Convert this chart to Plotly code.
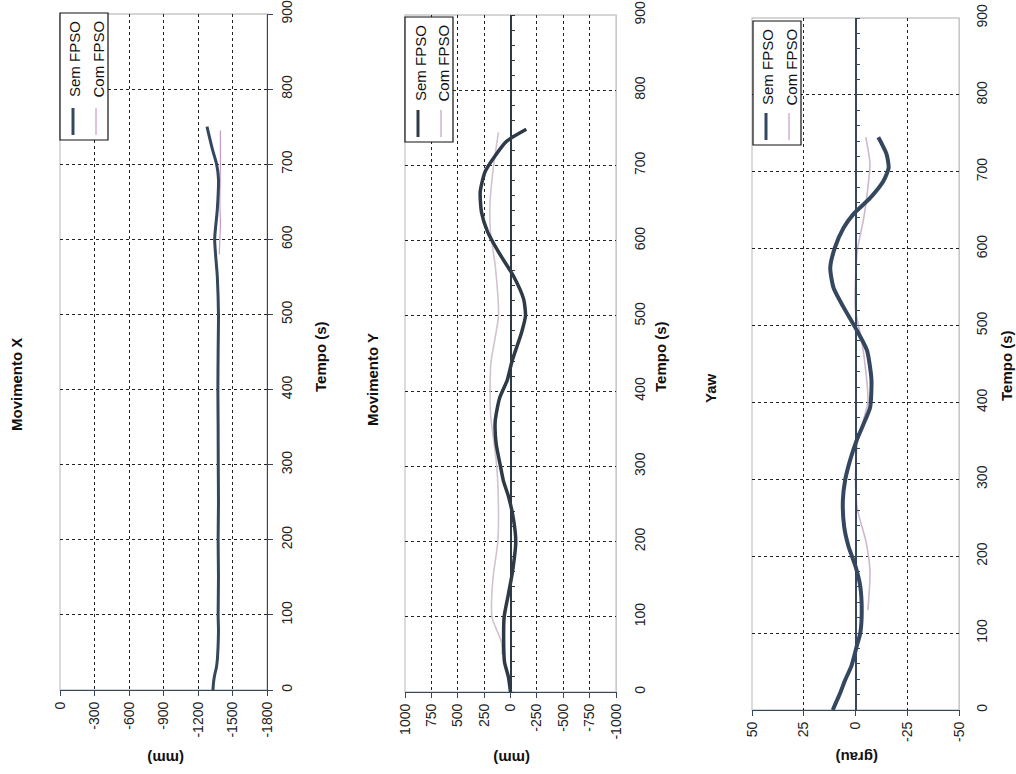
import plotly.graph_objects as go

W, H = 1016, 774

# ---------------- data ----------------
time_ticks = [0, 100, 200, 300, 400, 500, 600, 700, 800, 900]

x_ticks = [0, -300, -600, -900, -1200, -1500, -1800]
x_ticklabels = ["0", "-300", "-600", "-900", "-1200", "-1500", "-1800"]
y_ticks = [1000, 750, 500, 250, 0, -250, -500, -750, -1000]
y_ticklabels = ["1000", "750", "500", "250", "0", "-250", "-500", "-750", "-1000"]
yaw_ticks = [50, 25, 0, -25, -50]
yaw_ticklabels = ["50", "25", "0", "-25", "-50"]

# Movimento X
x_sem_t = [0, 10, 20, 30, 40, 50, 60, 80, 100, 150, 200, 250, 300, 350, 400, 450, 500, 550, 600, 640, 680, 700, 720, 750]
x_sem_v = [-1330, -1335, -1345, -1360, -1368, -1372, -1375, -1378, -1375, -1378, -1375, -1378, -1376, -1375, -1373, -1375, -1378, -1368, -1345, -1368, -1378, -1362, -1325, -1278]
x_com_t = [580, 600, 620, 650, 700, 745]
x_com_v = [-1385, -1390, -1395, -1390, -1395, -1395]

# Movimento Y
y_sem_t = [0, 20, 40, 70, 100, 130, 160, 200, 230, 260, 280, 300, 330, 360, 390, 415, 440, 478, 500, 522, 553, 585, 612, 638, 665, 692, 713, 732, 748]
y_sem_v = [0, 20, 57, 65, 60, 20, -19, -50, -28, 19, 66, 95, 136, 145, 105, 30, -15, -105, -142, -125, -28, 114, 218, 275, 287, 240, 145, 38, -150]
y_com_t = [50, 66, 100, 150, 200, 244, 300, 371, 436, 500, 567, 612, 648, 700, 744]
y_com_v = [80, 85, 176, 167, 120, 114, 130, 190, 187, 114, 145, 190, 195, 160, 114]

# Yaw
yaw_sem_t = [0, 22, 39, 57, 83, 100, 126, 161, 187, 213, 239, 273, 299, 325, 351, 377, 394, 430, 468, 497, 524, 549, 575, 601, 627, 645, 666, 688, 705, 723, 740, 745]
yaw_sem_v = [11, 7.4, 5, 2, -0.6, -2.3, -3, -2.3, 0, 3.4, 5.5, 6.1, 5, 2.6, -0.6, -4.7, -7.1, -7.7, -5.5, 0, 5.8, 10.6, 12.2, 10, 5.8, 1, -7.1, -13.5, -16, -15, -12, -11]
yaw_com_t = [130, 180, 220, 260, 300, 350, 400, 440, 480, 520, 560, 600, 640, 680, 710, 745]
yaw_com_v = [-6, -7, -5, -1, 0, -1, -6, -5, -3, 0, 0, -1, -4, -6, -7, -5]

titles = ["Movimento X", "Movimento Y", "Yaw"]
unit_labels = ["(mm)", "(mm)", "(grau)"]
time_title = "Tempo (s)"
legend_names = ["Sem FPSO", "Com FPSO"]

# ---------------- style ----------------
FONT = "Liberation Sans, Arial, sans-serif"
NAVY = "#34475F"
DARK = "#2E3B47"
PINK = "#C79BC6"
BORDER = "#C8C8C8"
GRID = "#222222"

def px_x(p):
    return p / W

def px_y(p):
    return 1 - p / H

# plot boxes in pixels: (left, right, top(900), bottom(0))
boxes = [(60, 267, 14, 690), (405, 616, 15, 692), (752, 959, 18, 710)]
ranges = [[0, -1800], [1000, -1000], [50, -50]]
label_standoffs = [2, 6, 5]

fig = go.Figure()

def add(tr_t, tr_v, xa, ya, color, width, name):
    fig.add_trace(go.Scatter(x=tr_v, y=tr_t, mode="lines", xaxis=xa, yaxis=ya,
                             line=dict(color=color, width=width, shape="spline", smoothing=0.6),
                             name=name, showlegend=False, hoverinfo="skip"))

add(x_com_t, x_com_v, "x", "y", PINK, 1.2, legend_names[1])
add(x_sem_t, x_sem_v, "x", "y", NAVY, 3, legend_names[0])
add(y_com_t, y_com_v, "x2", "y2", "#CFC4CF", 1.6, legend_names[1])
add(y_sem_t, y_sem_v, "x2", "y2", DARK, 3.5, legend_names[0])
add(yaw_com_t, yaw_com_v, "x3", "y3", "#CDB8CD", 1.6, legend_names[1])
add(yaw_sem_t, yaw_sem_v, "x3", "y3", NAVY, 4, legend_names[0])
# invisible traces to anchor the zero-crossing time axes
add(y_sem_t, y_sem_v, "x2", "y4", "rgba(0,0,0,0)", 0.1, "")
add(yaw_sem_t, yaw_sem_v, "x3", "y5", "rgba(0,0,0,0)", 0.1, "")

tickfont = dict(family=FONT, size=14, color="#222")
value_ticks = [(x_ticks, x_ticklabels), (y_ticks, y_ticklabels), (yaw_ticks, yaw_ticklabels)]

layout = dict(template="none", width=W, height=H, margin=dict(l=0, r=0, t=0, b=0, pad=0),
              paper_bgcolor="white", plot_bgcolor="white", showlegend=False,
              font=dict(family=FONT, size=14, color="#222"))

for i, (l, r, t, b) in enumerate(boxes):
    sfx = "" if i == 0 else str(i + 1)
    tv, tt = value_ticks[i]
    layout["xaxis" + sfx] = dict(
        domain=[px_x(l), px_x(r)], range=ranges[i], anchor="y" + sfx, automargin=False,
        tickvals=tv, ticktext=tt, tickangle=-90, tickfont=tickfont,
        showline=True, linecolor=NAVY, linewidth=1.3,
        ticks="outside", ticklen=5, tickcolor=NAVY,
        showgrid=True, gridcolor=GRID, griddash="dot", gridwidth=1,
        zeroline=False)
    ax = dict(
        domain=[px_y(b), px_y(t)], range=[0, 900], anchor="x" + sfx, side="right",
        automargin=False,
        tickvals=time_ticks, tickangle=-90, tickfont=tickfont,
        showgrid=True, gridcolor=GRID, griddash="dot", gridwidth=1,
        zeroline=False, showline=True, ticklabelstandoff=label_standoffs[i])
    if i == 0:
        ax.update(linecolor=NAVY, linewidth=1.3, ticks="outside", ticklen=5, tickcolor=NAVY)
    else:
        ax.update(linecolor=BORDER, linewidth=1.3, ticks="outside", ticklen=5,
                  tickcolor="rgba(0,0,0,0)")
    layout["yaxis" + sfx] = ax

# zero-crossing time axes with minor ticks for Y and Yaw
for k, (i, col) in enumerate([(1, DARK), (2, NAVY)]):
    l, r, t, b = boxes[i]
    r0, r1 = ranges[i]
    pos = px_x(l + (r0 - 0) / (r0 - r1) * (r - l))
    layout["yaxis" + str(4 + k)] = dict(
        overlaying="y" + str(i + 1), anchor="free", position=pos, side="right",
        automargin=False,
        range=[0, 900], tickvals=time_ticks, showticklabels=False,
        showline=True, linecolor=col, linewidth=1.5,
        ticks="outside", ticklen=4, tickcolor=col,
        minor=dict(dtick=20, ticks="outside", ticklen=4, tickcolor=col),
        showgrid=False, zeroline=False)

fig.update_layout(**layout)

# plot borders
for i, (l, r, t, b) in enumerate(boxes):
    fig.add_shape(type="rect", xref="paper", yref="paper",
                  x0=px_x(l), x1=px_x(r), y0=px_y(b), y1=px_y(t),
                  line=dict(color=BORDER, width=1.3), layer="below")

# titles / axis titles
title_pos = [(17, 385), (372, 380), (710, 388)]
time_title_pos = [(321, 357), (661, 357), (1007, 366)]
unit_pos = [(166, 759), (512, 759), (857, 758)]
for i in range(3):
    fig.add_annotation(x=px_x(title_pos[i][0]), y=px_y(title_pos[i][1]), xref="paper", yref="paper",
                       text="<b>%s</b>" % titles[i], textangle=-90, showarrow=False,
                       xanchor="center", yanchor="middle", font=dict(family=FONT, size=15, color="#111"))
    fig.add_annotation(x=px_x(time_title_pos[i][0]), y=px_y(time_title_pos[i][1]), xref="paper", yref="paper",
                       text="<b>%s</b>" % time_title, textangle=-90, showarrow=False,
                       xanchor="center", yanchor="middle", font=dict(family=FONT, size=15, color="#111"))
    fig.add_annotation(x=px_x(unit_pos[i][0]), y=px_y(unit_pos[i][1]), xref="paper", yref="paper",
                       text="<b>%s</b>" % unit_labels[i], textangle=180, showarrow=False,
                       xanchor="center", yanchor="middle", font=dict(family=FONT, size=15, color="#111"))

# legends (rotated, drawn manually)
legend_boxes = [(60, 108, 13, 140), (405, 453, 17, 142), (753, 801, 21, 145)]
sem_colors = [NAVY, DARK, NAVY]
for i, (l, r, t, b) in enumerate(legend_boxes):
    fig.add_shape(type="rect", xref="paper", yref="paper",
                  x0=px_x(l), x1=px_x(r), y0=px_y(b), y1=px_y(t),
                  line=dict(color="#111", width=1.2), fillcolor="white", layer="above")
    cols = [l + 13, l + 36]
    for j, cx in enumerate(cols):
        fig.add_shape(type="line", xref="paper", yref="paper",
                      x0=px_x(cx), x1=px_x(cx), y0=px_y(b - 5), y1=px_y(b - 32),
                      line=dict(color=sem_colors[i] if j == 0 else PINK, width=3 if j == 0 else 1.2),
                      layer="above")
        fig.add_annotation(x=px_x(cx + 2), y=px_y(t + 6), xref="paper", yref="paper",
                           text=legend_names[j], textangle=-90, showarrow=False,
                           xanchor="center", yanchor="top", font=dict(family=FONT, size=15, color="#111"))

fig.write_html("out.html", config={"displayModeBar": False},
               post_script="document.body.style.margin='0';document.body.style.overflow='hidden';")
